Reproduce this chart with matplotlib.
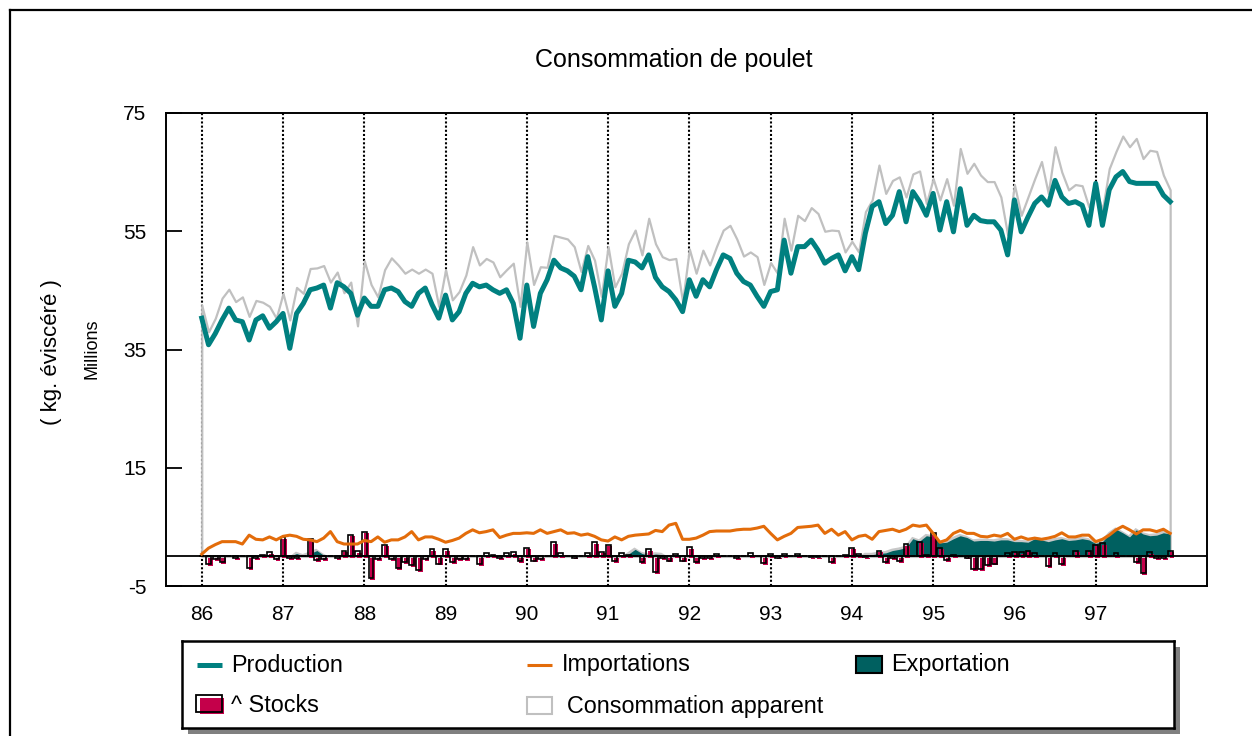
import matplotlib

matplotlib.use("Agg")
import matplotlib.pyplot as plt
import numpy as np
from matplotlib.lines import Line2D
from matplotlib.patches import Rectangle

# monthly series, Jan 1986 .. Dec 1997, millions of kg (eviscerated)
YEARS = list(range(86, 98))
YEAR_LABELS = [str(y) for y in YEARS]
Y_TICKS = [-5, 15, 35, 55, 75]

PRODUCTION = [
    40.3, 35.8, 37.7, 40.0, 42.0, 40.0, 39.7, 36.6, 40.0, 40.7, 38.6, 39.7,
    41.1, 35.2, 41.1, 42.8, 45.1, 45.4, 45.9, 42.0, 46.3, 45.6, 44.5, 40.8,
    43.7, 42.3, 42.3, 45.1, 45.4, 44.8, 43.1, 42.3, 44.5, 45.4, 42.6, 40.3,
    44.2, 40.0, 41.4, 44.5, 46.2, 45.6, 45.9, 45.1, 44.5, 45.1, 42.8, 36.9,
    45.9, 38.9, 44.5, 46.8, 50.1, 48.8, 48.3, 47.4, 45.1, 50.7, 45.6, 40.0,
    48.3, 42.3, 44.5, 50.1, 49.8, 48.8, 51.0, 47.2, 45.6, 44.8, 43.4, 41.4,
    46.8, 44.0, 46.8, 45.6, 48.5, 51.0, 50.4, 47.9, 46.5, 45.9, 44.0, 42.3,
    44.8, 45.1, 53.5, 47.9, 52.4, 52.4, 53.5, 51.8, 49.6, 50.4, 51.0, 48.3,
    50.7, 48.5, 54.7, 59.2, 60.0, 56.3, 57.7, 61.7, 56.6, 61.7, 60.0, 57.7,
    61.4, 55.2, 60.0, 54.9, 62.2, 56.0, 57.7, 56.8, 56.6, 56.6, 55.2, 51.0,
    60.3, 54.9, 57.4, 59.7, 60.8, 59.4, 63.6, 60.8, 59.7, 60.0, 59.4, 56.0,
    63.1, 56.0, 62.0, 64.2, 65.1, 63.4, 63.1, 63.1, 63.1, 63.1, 61.1, 60.0,
]
CONSOMMATION = [
    42.5, 38.0, 40.3, 43.7, 45.2, 43.1, 43.9, 40.6, 43.3, 43.0, 42.3, 40.3,
    44.5, 40.0, 45.5, 44.5, 48.7, 48.8, 49.2, 46.4, 48.1, 44.6, 46.4, 39.0,
    50.0, 46.0, 43.9, 48.5, 50.5, 49.3, 47.9, 48.6, 47.9, 48.6, 47.9, 42.3,
    48.5, 43.4, 44.8, 47.6, 52.4, 49.3, 50.4, 49.8, 47.3, 48.5, 49.6, 42.3,
    53.2, 46.0, 49.0, 48.9, 54.3, 54.0, 53.7, 52.4, 48.2, 52.6, 50.1, 44.0,
    52.4, 45.6, 47.9, 52.9, 55.2, 51.0, 57.2, 52.9, 50.7, 50.2, 50.4, 43.1,
    52.0, 47.9, 51.8, 49.3, 52.4, 55.2, 56.0, 53.7, 50.8, 51.5, 50.7, 46.0,
    49.7, 47.9, 57.2, 51.8, 57.7, 56.8, 59.0, 58.0, 55.0, 55.2, 55.1, 51.5,
    53.3, 51.5, 58.3, 60.3, 66.2, 61.4, 63.6, 64.2, 60.8, 64.7, 65.2, 59.7,
    63.9, 60.3, 63.9, 59.4, 69.0, 64.8, 66.5, 64.5, 63.4, 63.4, 60.8, 54.4,
    62.9, 57.7, 60.8, 63.9, 66.8, 61.4, 69.3, 65.0, 62.0, 62.9, 62.7, 59.1,
    62.2, 58.6, 65.6, 68.5, 71.1, 69.3, 70.7, 67.3, 68.7, 68.5, 64.5, 62.0,
]
IMPORTATIONS = [
    0.4, 1.4, 2.0, 2.5, 2.5, 2.5, 2.1, 3.6, 2.9, 2.8, 3.3, 2.8,
    3.4, 3.6, 3.4, 2.9, 2.8, 2.5, 3.1, 4.2, 2.5, 2.1, 2.1, 2.1,
    2.7, 2.5, 3.3, 2.4, 2.8, 2.8, 3.3, 4.2, 2.8, 3.3, 3.3, 2.9,
    2.4, 2.7, 3.1, 3.9, 4.5, 4.0, 4.2, 4.5, 3.2, 3.6, 3.9, 3.9,
    4.0, 3.9, 4.5, 3.9, 4.2, 4.5, 3.9, 4.0, 3.6, 3.8, 3.4, 2.8,
    2.6, 3.3, 2.8, 3.4, 3.6, 3.7, 3.8, 4.4, 4.2, 5.3, 5.6, 2.9,
    2.9, 3.1, 3.6, 4.2, 4.3, 4.3, 4.3, 4.5, 4.6, 4.6, 4.8, 5.1,
    3.9, 2.8, 3.4, 3.9, 4.9, 5.0, 5.1, 5.3, 3.9, 4.6, 3.6, 4.2,
    2.8, 3.4, 3.6, 2.9, 4.2, 4.4, 4.6, 4.2, 4.6, 5.3, 5.1, 5.3,
    3.9, 2.4, 2.8, 3.9, 4.4, 3.9, 3.9, 3.4, 3.3, 3.6, 3.4, 3.9,
    2.9, 3.3, 2.9, 3.1, 2.9, 3.1, 3.4, 4.0, 3.3, 3.3, 3.6, 3.6,
    2.5, 2.9, 3.6, 4.5, 5.1, 4.5, 3.8, 4.5, 4.5, 4.2, 4.6, 3.9,
]
EXPORTATION = [
    0, 0, 0, 0, 0, 0, 0, 0, 0, 0, 0, 0,
    0, 0, 0.5, 0.1, 0.5, 1.0, 0.2, 0, 0, 0, 0, 0,
    0, 0, 0, 0, 0, 0, 0, 0, 0, 0, 0, 0,
    0, 0, 0, 0, 0, 0, 0, 0, 0, 0, 0, 0,
    0, 0, 0, 0, 0, 0, 0, 0, 0, 0, 0, 0,
    0, 0, 0, 0.4, 1.2, 0.5, 0.2, 0.4, 0.3, 0, 0, 0,
    0, 0, 0, 0, 0, 0, 0, 0, 0, 0, 0, 0,
    0, 0, 0, 0, 0, 0, 0, 0, 0, 0, 0, 0,
    0, 0, 0.3, 0.3, 0.5, 0.6, 1.0, 1.2, 1.5, 3.0, 2.6, 3.5,
    3.3, 2.3, 2.4, 3.0, 3.5, 3.2, 2.6, 2.7, 2.7, 2.6, 2.8, 2.8,
    2.5, 2.5, 2.4, 3.0, 2.8, 2.5, 2.8, 3.0, 2.7, 2.8, 3.0, 2.8,
    2.2, 2.5, 3.8, 4.6, 4.0, 3.3, 4.5, 3.8, 3.5, 3.6, 4.0, 3.8,
]
STOCKS = [
    0, -1.3, -0.4, -1.0, 0, -0.3, 0, -2.0, -0.3, 0.2, 0.7, -0.4,
    3.3, -0.3, -0.3, 0, 2.9, -0.6, -0.5, 0, -0.3, 1.0, 3.7, 0.9,
    4.2, -3.7, -0.5, 2.0, -0.5, -2.0, -1.0, -1.5, -2.3, -0.5, 1.2, -1.2,
    1.2, -1.0, -0.5, -0.5, 0, -1.3, 0.5, 0.3, -0.3, 0.5, 0.7, -0.8,
    1.5, -0.7, -0.4, 0, 2.4, 0.5, 0, -0.2, 0, 0.6, 2.4, 0.8,
    2.0, -0.8, 0.6, 0.3, 0, -1.0, 1.3, -2.6, -0.3, -0.7, 0.4, -0.7,
    1.6, -1.0, -0.3, -0.3, 0.4, 0, 0, -0.3, 0, 0.5, 0, -1.1,
    0.4, -0.2, 0.4, 0, 0.4, 0, -0.1, -0.1, 0, -1.0, 0, 0.3,
    1.5, 0.4, -0.1, 0, 1.0, -1.0, -0.3, -0.8, 2.1, 0, 2.5, 0.3,
    4.0, 1.5, -0.6, 0.3, 0, -0.2, -2.2, -2.2, -1.5, -1.2, 0, 0.5,
    0.8, 0.7, 1.0, 0.5, 0, -1.7, 0.5, -1.3, 0, 1.0, 0, 1.0,
    2.0, 2.3, 0, 0.5, 0, 0, -1.0, -2.8, 0.7, -0.3, -0.3, 1.0,
]

TEAL = "#008080"
DARK_TEAL = "#006060"
ORANGE = "#e36c0a"
GREY = "#c0c0c0"
CRIMSON = "#c4004a"

plt.rcParams.update({
    "font.family": ["Liberation Sans", "DejaVu Sans"],
    "axes.linewidth": 1.4,
    "axes.unicode_minus": False,
})

W, H = 1252, 736
fig = plt.figure(figsize=(W / 100, H / 100), dpi=100)


def fx(px):
    return px / W


def fy(py):
    return 1 - py / H


ax = fig.add_axes([fx(166), fy(586), fx(1207) - fx(166), fy(113) - fy(586)])
t = YEARS[0] + np.arange(len(PRODUCTION)) / 12

# year separators, hidden by the (white) consumption area
ax.vlines(YEARS, -5, 75, colors="black", linestyles=(0, (1, 1)), linewidth=1.5, zorder=1)
ax.fill_between(t, 0, CONSOMMATION, facecolor="white", edgecolor=GREY, linewidth=1.6, zorder=2)

exp = np.array(EXPORTATION)
ax.fill_between(t - 0.015, 0, np.where(exp > 0, exp + 0.4, 0), color="#c8c8c8", linewidth=0, zorder=3)
ax.fill_between(t, 0, exp, color=DARK_TEAL, linewidth=0, zorder=3.1)

# stock change bars: crimson body with an offset black outline
bw = 0.06
ax.bar(t + 0.022, STOCKS, bottom=-0.3, width=bw, color=CRIMSON, linewidth=0, zorder=4)
ax.bar(t, STOCKS, width=bw, facecolor="none", edgecolor="black", linewidth=1.2, zorder=4.1)

ax.axhline(0, color="black", linewidth=1.3, zorder=5)
ax.plot(t, IMPORTATIONS, color=ORANGE, linewidth=2.2, zorder=6)
ax.plot(t, PRODUCTION, color=TEAL, linewidth=3.6, zorder=7)

ax.set_xlim(85.56, 98.37)
ax.set_ylim(-5, 75)
ax.set_yticks(Y_TICKS)
ax.set_xticks(YEARS, YEAR_LABELS)
ax.tick_params(axis="y", direction="in", length=11.5, width=1.3, pad=14, labelsize=15)
ax.tick_params(axis="x", length=0, pad=14, labelsize=15)

fig.text(fx(674), fy(60), "Consommation de poulet", ha="center", va="center", fontsize=18)
fig.text(fx(52), fy(352), "( kg. éviscéré )", rotation=90, ha="center", va="center", fontsize=16)
fig.text(fx(92), fy(349), "Millions", rotation=90, ha="center", va="center", fontsize=13)

# outer frame (top and left edges)
fig.add_artist(Line2D([fx(10), 1], [fy(10), fy(10)], color="black", linewidth=1.6))
fig.add_artist(Line2D([fx(10), fx(10)], [fy(10), 0], color="black", linewidth=1.6))

# legend box with drop shadow
fig.add_artist(Rectangle((fx(188), fy(734)), fx(1180) - fx(188), fy(647) - fy(734),
                         transform=fig.transFigure, facecolor="#808080", edgecolor="none", zorder=-1))
lax = fig.add_axes([fx(182), fy(728), fx(1174) - fx(182), fy(641) - fy(728)], zorder=1)
lax.set_xlim(182, 1174)
lax.set_ylim(728, 641)
lax.set_xticks([])
lax.set_yticks([])
lax.set_facecolor("white")
for s in lax.spines.values():
    s.set_linewidth(1.8)

lax.plot([197, 222], [665, 665], color=TEAL, linewidth=3.6, solid_capstyle="butt")
lax.text(231, 665, "Production", va="center", fontsize=16.8)
lax.plot([527, 552], [665, 665], color=ORANGE, linewidth=2.2, solid_capstyle="butt")
lax.text(562, 665, "Importations", va="center", fontsize=16.8)
lax.add_patch(Rectangle((856, 656), 26, 17, facecolor=DARK_TEAL, edgecolor="black", linewidth=1.5))
lax.text(891, 665, "Exportation", va="center", fontsize=16.8)
lax.add_patch(Rectangle((199.5, 697.5), 24, 16.5, facecolor=CRIMSON, edgecolor="none"))
lax.add_patch(Rectangle((196, 695), 25.5, 16.5, facecolor="none", edgecolor="black", linewidth=1.3))
lax.text(231, 706, "^ Stocks", va="center", fontsize=16.8)
lax.add_patch(Rectangle((527, 697), 25, 17, facecolor="white", edgecolor=GREY, linewidth=1.5))
lax.text(567, 706, "Consommation apparent", va="center", fontsize=16.8)

fig.savefig("out.png", dpi=100)
